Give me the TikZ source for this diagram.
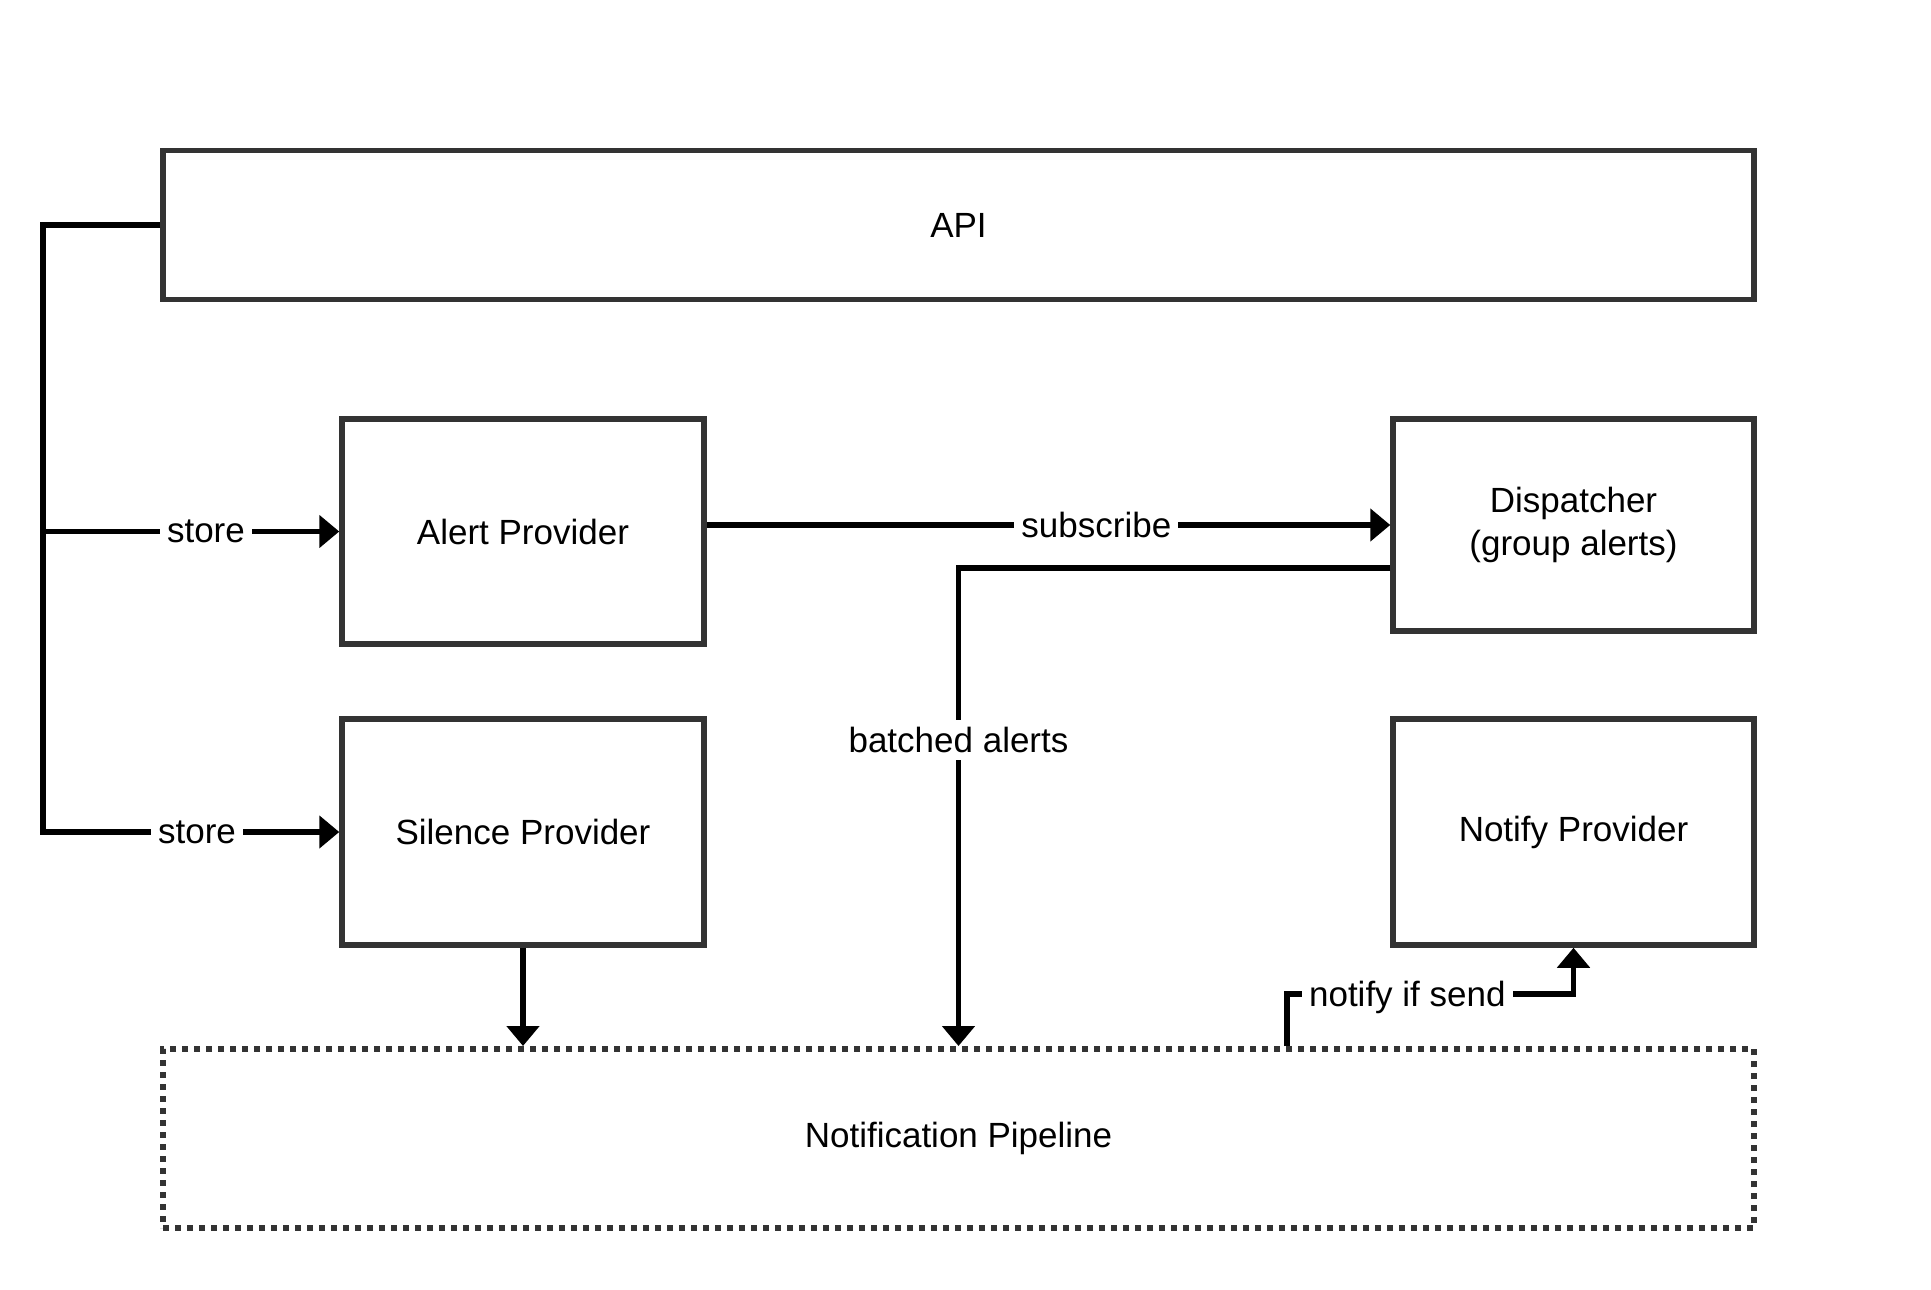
\documentclass[tikz,border=0pt]{standalone}
\usepackage{fontspec}
\setmainfont{Liberation Sans}
\usetikzlibrary{arrows.meta}
\definecolor{boxgray}{HTML}{333333}
\begin{document}
\begin{tikzpicture}[x=1pt,y=-1pt,
  every node/.style={font=\fontsize{35}{43}\selectfont},
  blk/.style={draw=boxgray,line width=5.5pt,rectangle,inner sep=0pt,align=center},
  pipebox/.style={draw=boxgray,line width=6pt,dash pattern=on 6pt off 6pt,rectangle,inner sep=0pt},
  conn/.style={draw=black,line width=5.5pt},
  arr/.style={conn,-{Triangle[length=20pt,width=32pt]}},
  lbl/.style={fill=white,inner sep=7pt}]
\useasboundingbox (0,0) rectangle (1931,1290);
\node[blk,minimum width=1591pt,minimum height=149pt] (api) at (958.5,225) {API};
\node[blk,minimum width=362pt,minimum height=225pt] (alert) at (523,531.5) {Alert Provider};
\node[blk,minimum width=361pt,minimum height=212pt] (disp) at (1573.5,525) {Dispatcher\\(group alerts)};
\node[blk,minimum width=362pt,minimum height=226pt] (silence) at (523,832) {Silence Provider};
\node[blk,minimum width=361pt,minimum height=226pt] (notify) at (1573.5,832) {Notify Provider};
\node[pipebox,minimum width=1591pt,minimum height=179pt] (pipe) at (958.5,1138.5) {Notification Pipeline};
\coordinate (bus) at (43,225);
\draw[arr] (api.west) -- (bus) |- node[lbl,pos=0.76]{store} (silence.west);
\draw[arr] (bus |- alert.west) -- node[lbl,pos=0.55]{store} (alert.west);
\draw[arr] (alert.east |- disp.west) -- node[lbl,pos=0.57]{subscribe} (disp.west);
\draw[arr] ([yshift=-43pt]disp.west) -| node[lbl,pos=0.68]{batched alerts} (pipe.north);
\draw[arr] (silence.south) -- (silence.south |- pipe.north);
\draw[arr] ([xshift=328.5pt]pipe.north) -- ++(0,-52) -| node[lbl,pos=0.21,yshift=-3pt]{notify if send} (notify.south);
\end{tikzpicture}
\end{document}
